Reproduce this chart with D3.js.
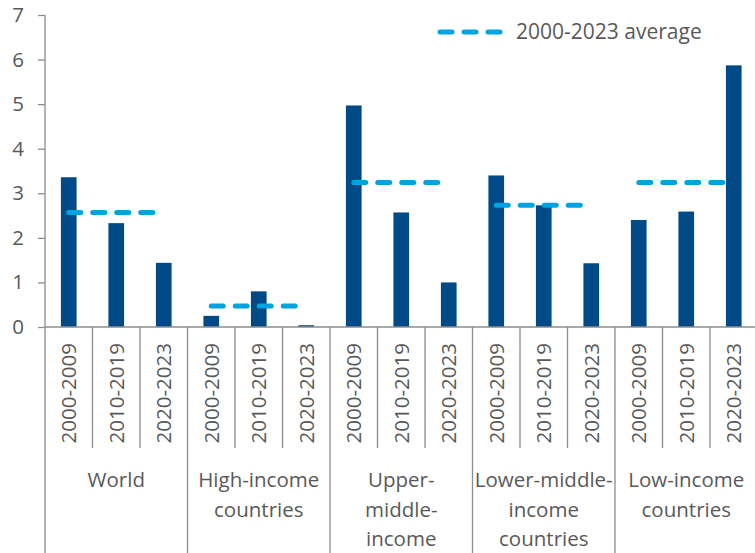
<!DOCTYPE html>
<html>
<head>
<meta charset="utf-8">
<script src="https://cdn.jsdelivr.net/npm/d3@7"></script>
<style>
  body { margin: 0; background: #fff; }
  svg text { font-family: "Open Sans", sans-serif; fill: #595959; }
</style>
</head>
<body>
<div class="chart"></div>
<script>

// data
const periods = ["2000-2009", "2010-2019", "2020-2023"];
const groups = ["World", "High-income countries", "Upper-middle-income countries", "Lower-middle-income countries", "Low-income countries"];
const groupLines = [
    ["World"],
    ["High-income", "countries"],
    ["Upper-", "middle-", "income", "countries"],
    ["Lower-middle-", "income", "countries"],
    ["Low-income", "countries"]
];
const v2000_2009 = [3.36, 0.25, 4.97, 3.40, 2.40];
const v2010_2019 = [2.33, 0.80, 2.57, 2.73, 2.59];
const v2020_2023 = [1.44, 0.04, 1.00, 1.43, 5.87];
const average = [2.57, 0.47, 3.24, 2.73, 3.24];
const yTicks = [0, 1, 2, 3, 4, 5, 6, 7];
const legendLabel = "2000-2023 average";

const seriesByPeriod = [v2000_2009, v2010_2019, v2020_2023];

const width = 755;
const height = 553;

const svg = d3.select(".chart")
    .append("svg")
    .attr("width", width)
    .attr("height", height);

// one slot per group/period pair
const slots = [];
groups.forEach((g, gi) => {
    periods.forEach((p, pi) => {
        slots.push({ key: g + "|" + p, group: gi, period: p, value: seriesByPeriod[pi][gi] });
    });
});

const x = d3.scaleBand()
    .domain(slots.map(d => d.key))
    .range([45, 45 + 47.5 * slots.length]);

const y = d3.scaleLinear()
    .domain([0, 7])
    .range([327, 15]);

const axisColor = "#8c8c8c";
const barW = x.bandwidth() * 0.33;

// y axis
const yAxis = svg.append("g")
    .attr("transform", "translate(45,0)")
    .call(d3.axisLeft(y).tickValues(yTicks).tickSize(7).tickPadding(14).tickFormat(d3.format("d")));
yAxis.select(".domain").remove();
yAxis.selectAll(".tick line").attr("stroke", axisColor).attr("stroke-width", 1.3);
yAxis.selectAll(".tick text").attr("font-size", 20.5).style("font-family", "'Open Sans', sans-serif").attr("fill", "#595959");

// y axis line, running down through the category area
svg.append("line")
    .attr("x1", 45).attr("x2", 45)
    .attr("y1", y(7)).attr("y2", height)
    .attr("stroke", axisColor).attr("stroke-width", 1.3);

// bars
svg.selectAll("rect.bar")
    .data(slots)
    .enter()
    .append("rect")
    .attr("class", "bar")
    .attr("x", d => x(d.key) + (x.bandwidth() - barW) / 2)
    .attr("y", d => y(d.value))
    .attr("width", barW)
    .attr("height", d => y(0) - y(d.value))
    .attr("fill", "#004a87");

// baseline
svg.append("line")
    .attr("x1", 45).attr("x2", width)
    .attr("y1", y(0)).attr("y2", y(0))
    .attr("stroke", axisColor).attr("stroke-width", 1.3);

// category separators
const bounds = d3.range(slots.length + 1).slice(1);
svg.selectAll("line.sep")
    .data(bounds)
    .enter()
    .append("line")
    .attr("class", "sep")
    .attr("x1", i => 45 + x.step() * i)
    .attr("x2", i => 45 + x.step() * i)
    .attr("y1", y(0))
    .attr("y2", i => i % 3 === 0 ? height : 448)
    .attr("stroke", axisColor)
    .attr("stroke-width", 1.3);

// period labels
svg.selectAll("text.period")
    .data(slots)
    .enter()
    .append("text")
    .attr("class", "period")
    .attr("transform", d => `translate(${x(d.key) + x.bandwidth() / 2},343) rotate(-90)`)
    .attr("dy", "0.36em")
    .attr("text-anchor", "end")
    .attr("font-size", 20.5)
    .text(d => d.period);

// group labels (last lines of long names run past the bottom, as in the original)
groups.forEach((g, gi) => {
    const cx = x(g + "|" + periods[1]) + x.bandwidth() / 2;
    const t = svg.append("text")
        .attr("class", "group")
        .attr("text-anchor", "middle")
        .attr("font-size", 20.5);
    groupLines[gi].forEach((line, li) => {
        t.append("tspan")
            .attr("x", cx)
            .attr("y", 487 + li * 29.5)
            .text(line);
    });
});

// average dashed lines
svg.selectAll("line.avg")
    .data(groups)
    .enter()
    .append("line")
    .attr("class", "avg")
    .attr("x1", g => x(g + "|" + periods[0]) + x.bandwidth() / 2)
    .attr("x2", g => x(g + "|" + periods[2]) + x.bandwidth() / 2)
    .attr("y1", (g, i) => y(average[i]))
    .attr("y2", (g, i) => y(average[i]))
    .attr("stroke", "#00a3e0")
    .attr("stroke-width", 5)
    .attr("stroke-linecap", "round")
    .attr("stroke-dasharray", "12,12");

// legend
svg.append("line")
    .attr("x1", 440).attr("x2", 502)
    .attr("y1", 32).attr("y2", 32)
    .attr("stroke", "#00a3e0")
    .attr("stroke-width", 5)
    .attr("stroke-linecap", "round")
    .attr("stroke-dasharray", "12,12");

svg.append("text")
    .attr("x", 516)
    .attr("y", 39)
    .attr("font-size", 21)
    .text(legendLabel);

</script>
</body>
</html>
